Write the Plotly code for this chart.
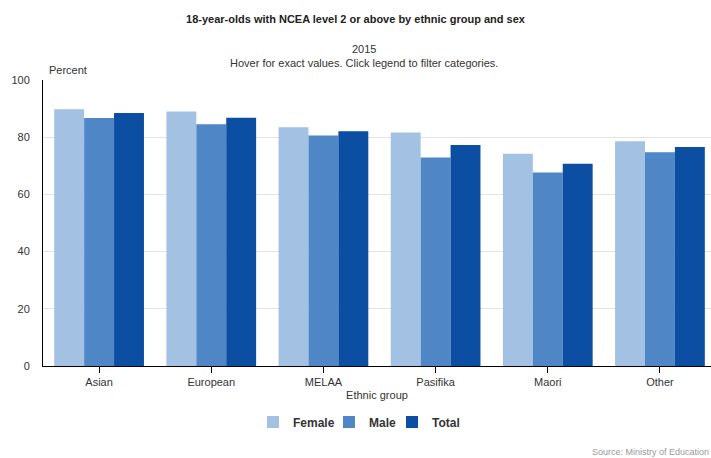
import plotly.graph_objects as go

categories = ["Asian", "European", "MELAA", "Pasifika", "Maori", "Other"]
female = [89.8, 89.0, 83.5, 81.6, 74.2, 78.6]
male = [86.7, 84.5, 80.6, 72.9, 67.7, 74.7]
total = [88.5, 86.8, 82.1, 77.3, 70.7, 76.6]
y_ticks = [0, 20, 40, 60, 80, 100]

series = [("Female", female, "#a3c1e3", "legend", 253),
          ("Male", male, "#4f86c6", "legend2", 329),
          ("Total", total, "#0b4ea2", "legend3", 392)]

FONT = "Liberation Sans, Arial, sans-serif"
fig = go.Figure()
legends = {}
for name, vals, col, lg, px in series:
    fig.add_trace(go.Bar(x=categories, y=vals, name=name, legend=lg,
                         marker=dict(color=col, line=dict(width=0))))
    legends[lg] = dict(orientation="h", x=(px - 43) / 668, xanchor="left", y=-0.196, yanchor="middle",
                       font=dict(family=FONT, size=12, color="#333333", weight="bold"),
                       itemwidth=30, bgcolor="rgba(0,0,0,0)")

fig.update_layout(
    width=711, height=458,
    margin=dict(l=43, r=0, t=80, b=92),
    paper_bgcolor="white", plot_bgcolor="white",
    font=dict(family=FONT, size=11, color="#333333"),
    barmode="group", bargap=0.2, bargroupgap=0,
    showlegend=True,
    title=dict(text="<b>18-year-olds with NCEA level 2 or above by ethnic group and sex</b>",
               x=0.5, xref="container", xanchor="center", y=1 - 19 / 458, yref="container", yanchor="middle",
               font=dict(family=FONT, size=11, color="#222222")),
    **legends,
)
fig.update_xaxes(
    range=[-0.5, 5.455], showline=True, linecolor="#000000", linewidth=1,
    ticks="outside", ticklen=6, tickcolor="#000000", showgrid=False,
    tickfont=dict(size=11, color="#333333"),
    title=dict(text="Ethnic group", font=dict(size=11, color="#333333"), standoff=4),
)
fig.update_yaxes(
    range=[0, 100], tickvals=y_ticks, showline=True, linecolor="#000000", linewidth=1,
    showgrid=True, gridcolor="#e3e3e3", gridwidth=1, zeroline=False,
    ticks="outside", ticklen=10, tickcolor="rgba(0,0,0,0)",
    tickfont=dict(size=11, color="#333333"),
)
fig.add_annotation(text="2015", xref="paper", yref="paper", x=(364 - 43) / 668, y=(366 - 49) / 286,
                   showarrow=False, xanchor="center", yanchor="middle", font=dict(size=11, color="#333333"))
fig.add_annotation(text="Hover for exact values. Click legend to filter categories.", xref="paper", yref="paper",
                   x=(364 - 43) / 668, y=(366 - 63) / 286,
                   showarrow=False, xanchor="center", yanchor="middle", font=dict(size=11, color="#333333"))
fig.add_annotation(text="Percent", xref="paper", yref="paper", x=(47 - 43) / 668, y=(366 - 70) / 286,
                   showarrow=False, xanchor="left", yanchor="middle", font=dict(size=11, color="#333333"))
fig.add_annotation(text="Source: Ministry of Education", xref="paper", yref="paper", x=1,
                   y=(366 - 452) / 286, showarrow=False, xanchor="right", yanchor="middle",
                   font=dict(size=9, color="#9a9a9a"))

fig.write_html("out.html")
